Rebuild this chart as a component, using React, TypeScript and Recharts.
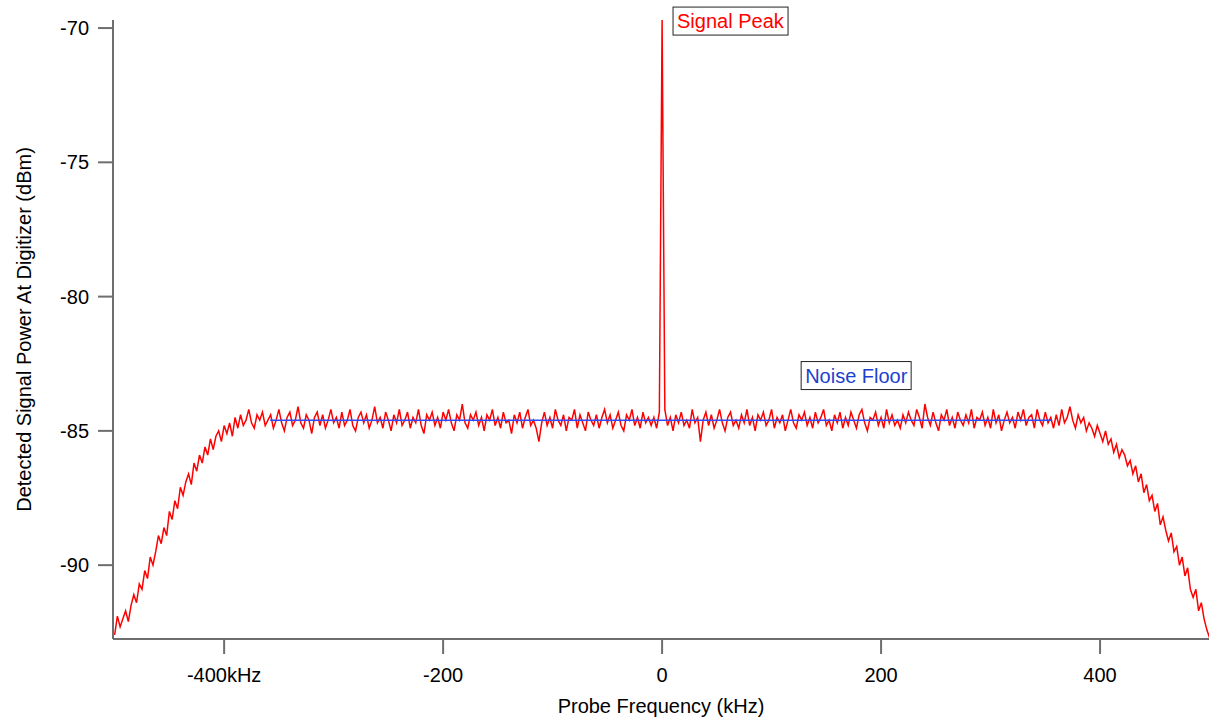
import React from "react";
import {
  Line,
  LineChart,
  ReferenceDot,
  XAxis,
  YAxis,
} from "recharts";

// spectrum sampled every 2.5 kHz from -500 kHz
const FREQ_START = -500;
const FREQ_STEP = 2.5;

// -500 .. -360 kHz (filter roll-on)
const leftRamp = [
  -92.6, -91.9, -92.3, -92.0, -91.7, -92.1, -91.5, -91.1, -91.4, -90.7,
  -90.9, -90.2, -90.5, -89.7, -90.0, -89.5, -88.9, -89.2, -88.6, -88.9,
  -88.0, -88.3, -87.6, -87.9, -87.1, -87.4, -86.9, -86.6, -87.0, -86.2,
  -86.5, -85.9, -86.2, -85.6, -85.9, -85.3, -85.7, -85.2, -85.0, -85.4,
  -84.8, -85.1, -84.7, -85.2, -84.5, -84.9, -84.4, -84.8, -84.6, -84.2,
  -84.7, -84.9, -84.4, -84.6, -84.3, -84.8, -84.6,
];

// -357.5 .. 357.5 kHz (flat part, carrier at 0)
const plateau = [
  -84.4, -84.9, -84.6, -84.2, -84.7, -85.0, -84.5, -84.3, -84.8, -84.6,
  -84.1, -84.7, -84.9, -84.4, -84.6, -85.1, -84.5, -84.3, -84.8, -84.4,
  -84.9, -84.6, -84.2, -84.7, -84.5, -84.9, -84.3, -84.8, -84.6, -84.2,
  -84.8, -85.0, -84.5, -84.3, -84.7, -84.4, -84.9, -84.6, -84.1, -84.7,
  -84.5, -84.9, -84.3, -84.6, -85.0, -84.4, -84.7, -84.2, -84.8, -84.6,
  -84.3, -84.9, -84.5, -84.7, -84.2, -84.8, -85.1, -84.4, -84.6, -84.3,
  -84.8, -84.5, -84.9, -84.3, -84.6, -84.2, -84.7, -85.0, -84.4, -84.6,
  -84.0, -84.7, -84.9, -84.4, -84.6, -84.3, -84.8, -84.5, -85.0, -84.4,
  -84.6, -84.2, -84.8, -84.5, -84.9, -84.3, -84.7, -84.6, -85.1, -84.4,
  -84.7, -84.3, -84.9, -84.5, -84.2, -84.8, -84.6, -84.9, -85.4, -84.7,
  -84.3, -84.8, -84.5, -84.9, -84.2, -84.6, -84.8, -84.4, -85.0, -84.5,
  -84.6, -84.2, -84.9, -84.4, -84.7, -85.0, -84.3, -84.6, -84.8, -84.4,
  -84.9, -84.5, -84.2, -84.7, -84.4, -84.9, -84.6, -84.3, -84.8, -85.0,
  -84.4, -84.6, -84.2, -84.8, -84.5, -84.9, -84.3, -84.7, -84.5, -84.8,
  -84.5, -84.9, -84.3, -69.7, -84.2, -84.8, -84.5, -85.0, -84.4, -84.7,
  -84.3, -84.8, -84.6, -84.9, -84.2, -84.7, -84.5, -85.4, -84.6, -84.3,
  -84.8, -84.4, -84.9, -84.6, -84.2, -84.7, -85.0, -84.5, -84.3, -84.8,
  -84.6, -84.9, -84.4, -84.7, -84.2, -84.8, -84.5, -85.0, -84.4, -84.6,
  -84.3, -84.8, -84.6, -84.2, -84.9, -84.5, -84.7, -84.4, -85.0, -84.6,
  -84.2, -84.7, -84.9, -84.4, -84.6, -84.3, -84.8, -84.5, -84.9, -84.3,
  -84.7, -84.5, -84.2, -84.8, -84.6, -85.0, -84.4, -84.7, -84.3, -84.9,
  -84.5, -84.8, -84.3, -84.6, -84.9, -84.4, -84.2, -84.7, -85.0, -84.5,
  -84.6, -84.3, -84.8, -84.5, -84.9, -84.2, -84.7, -84.4, -84.8, -84.6,
  -84.9, -84.4, -84.7, -84.3, -84.6, -84.8, -84.2, -84.5, -84.9, -84.0,
  -84.5, -84.8, -84.3, -84.7, -85.0, -84.4, -84.6, -84.2, -84.8, -84.5,
  -84.9, -84.3, -84.6, -84.8, -84.4, -84.7, -84.2, -84.9, -84.5, -84.6,
  -84.3, -84.8, -84.5, -84.9, -84.2, -84.7, -84.4, -85.0, -84.6, -84.3,
  -84.7, -84.5, -84.9, -84.3, -84.6, -84.2, -84.8, -84.5, -84.4, -84.9,
  -84.2, -84.6, -84.8, -84.3, -84.7, -84.5, -84.9,
];

// 360 .. 500 kHz (filter roll-off)
const rightRamp = [
  -84.4, -84.8, -84.2, -84.7, -84.5, -84.1, -84.6, -84.9, -84.4, -84.7,
  -84.5, -85.0, -84.7, -84.9, -85.2, -84.8, -85.1, -85.4, -85.0, -85.5,
  -85.3, -85.8, -85.5, -86.0, -85.7, -85.9, -86.3, -86.1, -86.6, -86.3,
  -86.9, -86.6, -87.3, -87.0, -87.6, -87.4, -88.0, -87.7, -88.5, -88.2,
  -88.7, -89.1, -88.8, -89.5, -89.3, -90.0, -89.7, -90.4, -90.1, -90.9,
  -91.2, -90.9, -91.7, -91.4, -92.0, -92.4, -92.7,
];

const noiseFloorFreqs = [-358, 356];
const noiseFloorLevel = -84.6;

const xTicks = [-400, -200, 0, 200, 400];
const yTicks = [-90, -85, -80, -75, -70];

const trace = [...leftRamp, ...plateau, ...rightRamp].map((p, i) => ({
  f: FREQ_START + i * FREQ_STEP,
  p,
}));
const floor = noiseFloorFreqs.map((f) => ({ f, p: noiseFloorLevel }));

const FONT = '"Liberation Sans", Arial, Helvetica, sans-serif';
const AXIS = "#6e6e6e";

function boxLabel(text: string, color: string, width: number) {
  return (props: any) => {
    const { cx, cy } = props;
    return (
      <g>
        <rect
          x={cx}
          y={cy - 14}
          width={width}
          height={28}
          fill="#fff"
          stroke="#222"
          strokeWidth={1}
        />
        <text x={cx + 4} y={cy + 7} fill={color} fontSize={20} fontFamily={FONT}>
          {text}
        </text>
      </g>
    );
  };
}

export default function App() {
  return (
    <div style={{ position: "absolute", left: 0, top: 0, background: "#fff" }}>
      <LineChart
        width={1209}
        height={719}
        data={trace}
        margin={{ top: 20, right: 0, bottom: 0, left: 0 }}
      >
        <XAxis
          dataKey="f"
          type="number"
          domain={[-501.5, 499.5]}
          allowDataOverflow
          ticks={xTicks}
          tickFormatter={(v) => (v === -400 ? "-400kHz" : String(v))}
          height={80}
          tickSize={15}
          tickMargin={14}
          stroke={AXIS}
          strokeWidth={2}
          tick={{ fill: "#000", fontSize: 20, fontFamily: FONT }}
          label={{
            content: (props: any) => {
              const vb = props.viewBox;
              return (
                <text
                  x={vb.x + vb.width / 2}
                  y={vb.y + 74}
                  textAnchor="middle"
                  fontSize={20}
                  fontFamily={FONT}
                  fill="#000"
                >
                  Probe Frequency (kHz)
                </text>
              );
            },
          }}
        />
        <YAxis
          type="number"
          domain={[-92.75, -69.7]}
          ticks={yTicks}
          width={113}
          tickSize={15}
          tickMargin={9}
          stroke={AXIS}
          strokeWidth={2}
          tick={{ fill: "#000", fontSize: 20, fontFamily: FONT }}
          label={{
            content: (props: any) => {
              const vb = props.viewBox;
              const x = vb.x + 31;
              const y = vb.y + vb.height / 2;
              return (
                <text
                  x={x}
                  y={y}
                  transform={`rotate(-90 ${x} ${y})`}
                  textAnchor="middle"
                  fontSize={20}
                  fontFamily={FONT}
                  fill="#000"
                >
                  Detected Signal Power At Digitizer (dBm)
                </text>
              );
            },
          }}
        />
        <Line
          dataKey="p"
          type="linear"
          stroke="#ff0000"
          strokeWidth={1.5}
          dot={false}
          activeDot={false}
          isAnimationActive={false}
        />
        <Line
          data={floor}
          dataKey="p"
          type="linear"
          stroke="#2a4bff"
          strokeWidth={1.5}
          dot={false}
          activeDot={false}
          isAnimationActive={false}
        />
        <ReferenceDot
          x={10}
          y={-69.74}
          ifOverflow="visible"
          shape={boxLabel("Signal Peak", "#ff0000", 115)}
        />
        <ReferenceDot
          x={127}
          y={-82.94}
          ifOverflow="visible"
          shape={boxLabel("Noise Floor", "#1c3fd0", 110)}
        />
      </LineChart>
    </div>
  );
}
